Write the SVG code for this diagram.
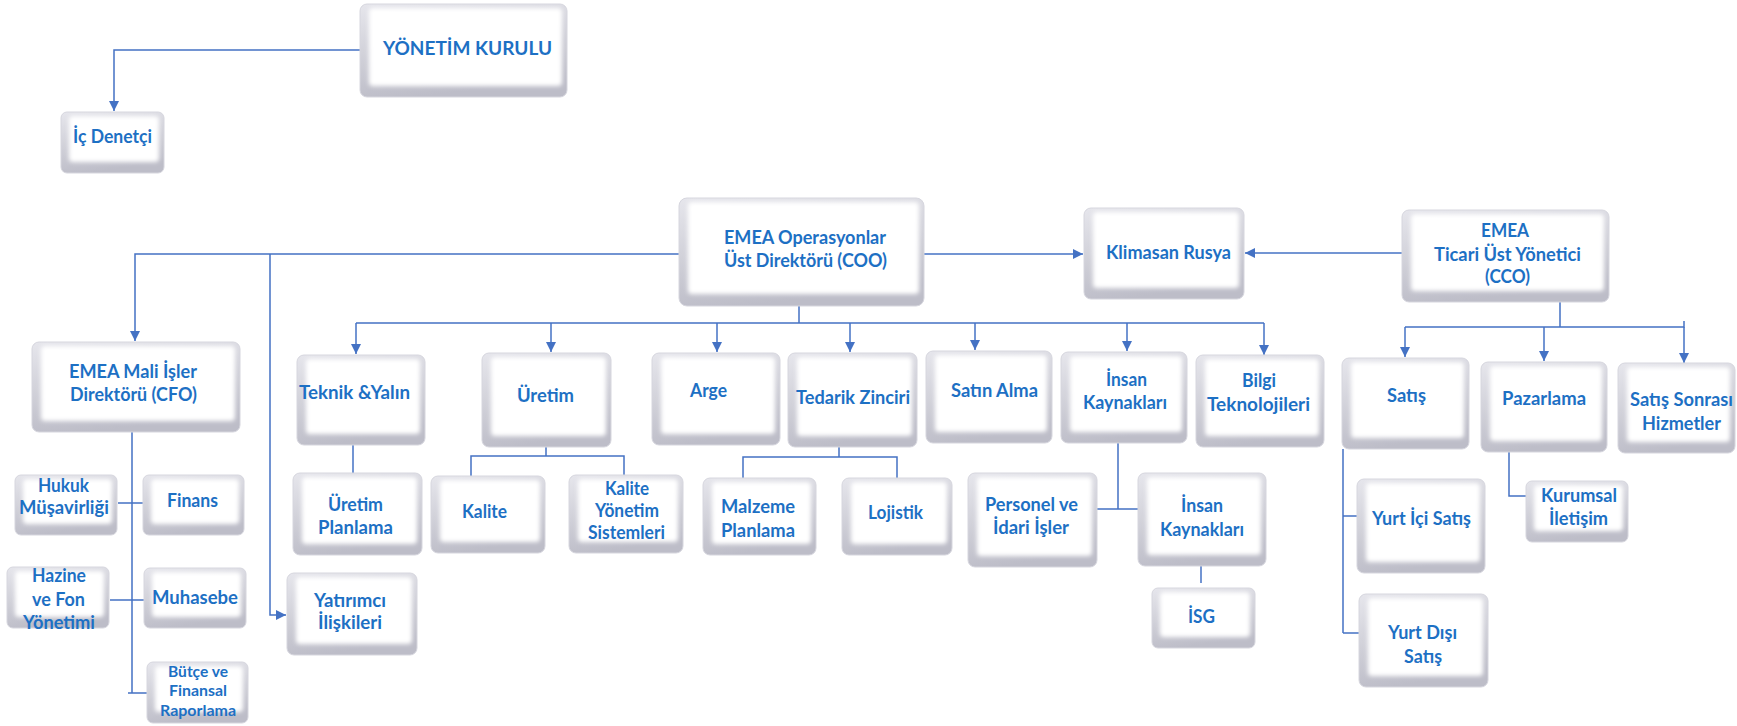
<svg xmlns="http://www.w3.org/2000/svg" width="1737" height="726" viewBox="0 0 1737 726">
<defs>
<linearGradient id="gO" x1="0" y1="0" x2="0.25" y2="1">
<stop offset="0" stop-color="#e6e6ec"/>
<stop offset="0.5" stop-color="#d2d2da"/>
<stop offset="1" stop-color="#bdbdc8"/>
</linearGradient>
<filter id="soft" x="-10%" y="-10%" width="120%" height="120%">
<feGaussianBlur stdDeviation="2.2"/>
</filter>
<marker id="ah" viewBox="0 0 10 10" refX="10" refY="5" markerWidth="10" markerHeight="10" markerUnits="userSpaceOnUse" orient="auto">
<path d="M0,0 L10,5 L0,10 z" fill="#4472c4"/>
</marker>
</defs>
<style>
.o{fill:url(#gO);stroke:#d6d6de;stroke-width:1}
.f{fill:#ffffff;filter:url(#soft)}
text{font-family:Lato,"Liberation Sans",sans-serif;font-weight:bold;font-size:18px;fill:#1d70c4;text-anchor:middle}
.s{font-size:14.5px}
.c path{fill:none;stroke:#4472c4;stroke-width:1.5}
.c .a{marker-end:url(#ah)}
</style>
<rect width="1737" height="726" fill="#ffffff"/>

<g class="c" id="connectors">
<path class="a" d="M360,50 H114 V111"/>
<path class="a" d="M679,254 H135 V341"/>
<path class="a" d="M270,254 V615 H286"/>
<path class="a" d="M924,254 H1083"/>
<path class="a" d="M1402,253 H1245"/>
<path d="M799,306 V323 M356,323 H1264"/>
<path class="a" d="M356,323 V354"/>
<path class="a" d="M551,323 V352"/>
<path class="a" d="M717,323 V352"/>
<path class="a" d="M850,323 V352"/>
<path class="a" d="M975,323 V350"/>
<path class="a" d="M1127,323 V351"/>
<path class="a" d="M1264,323 V355"/>
<path d="M1560,302 V327 M1405,327 H1684 V321"/>
<path class="a" d="M1405,327 V357"/>
<path class="a" d="M1544,327 V361"/>
<path class="a" d="M1684,327 V363"/>
<path d="M132,432 V693 M118,503 H147 M110,600 H147 M128,693 H147"/>
<path d="M353,445 V473"/>
<path d="M546,447 V456 M471,477 V456 H624 V475"/>
<path d="M839,447 V457 M743,478 V457 H897 V478"/>
<path d="M1118,443 V509 M1097,509 H1139"/>
<path d="M1201,566 V583"/>
<path d="M1343,449 V633 M1343,516 H1358 M1343,633 H1360"/>
<path d="M1509,452 V496 H1527"/>
</g>

<g id="yonetim-kurulu"><rect class="o" x="360" y="4" width="207" height="93" rx="7"/><rect class="f" x="369" y="8" width="193" height="78" rx="4"/>
<text x="467.5" y="55" font-size="20" textLength="169" lengthAdjust="spacingAndGlyphs">YÖNETİM KURULU</text></g>

<g id="ic-denetci"><rect class="o" x="61" y="112" width="103" height="61" rx="6"/><rect class="f" x="69" y="116" width="90" height="46" rx="4"/>
<text x="112.5" y="143" textLength="79" lengthAdjust="spacingAndGlyphs">İç Denetçi</text></g>

<g id="cfo"><rect class="o" x="32" y="342" width="208" height="90" rx="7"/><rect class="f" x="41" y="346" width="194" height="75" rx="4"/>
<text x="133" y="378" textLength="128" lengthAdjust="spacingAndGlyphs">EMEA Mali İşler</text>
<text x="133.5" y="401" textLength="127" lengthAdjust="spacingAndGlyphs">Direktörü (CFO)</text></g>

<g id="hukuk"><rect class="o" x="15" y="475" width="102" height="60" rx="6"/><rect class="f" x="23" y="479" width="89" height="45" rx="4"/>
<text x="63.5" y="492" textLength="51" lengthAdjust="spacingAndGlyphs">Hukuk</text>
<text x="64" y="514" textLength="90" lengthAdjust="spacingAndGlyphs">Müşavirliği</text></g>

<g id="finans"><rect class="o" x="143" y="475" width="101" height="60" rx="6"/><rect class="f" x="151" y="479" width="88" height="45" rx="4"/>
<text x="192.5" y="507" textLength="51" lengthAdjust="spacingAndGlyphs">Finans</text></g>

<g id="hazine"><rect class="o" x="7" y="567" width="102" height="61" rx="6"/><rect class="f" x="15" y="571" width="89" height="46" rx="4"/>
<text x="59" y="582" textLength="54" lengthAdjust="spacingAndGlyphs">Hazine</text>
<text x="58.5" y="606" textLength="53" lengthAdjust="spacingAndGlyphs">ve Fon</text>
<text x="59" y="629" textLength="72" lengthAdjust="spacingAndGlyphs">Yönetimi</text></g>

<g id="muhasebe"><rect class="o" x="144" y="568" width="102" height="60" rx="6"/><rect class="f" x="152" y="572" width="89" height="45" rx="4"/>
<text x="195" y="604" textLength="86" lengthAdjust="spacingAndGlyphs">Muhasebe</text></g>

<g id="butce"><rect class="o" x="147" y="662" width="101" height="61" rx="6"/><rect class="f" x="155" y="666" width="88" height="46" rx="4"/>
<text class="s" x="198" y="677" textLength="60" lengthAdjust="spacingAndGlyphs">Bütçe ve</text>
<text class="s" x="198" y="696" textLength="58" lengthAdjust="spacingAndGlyphs">Finansal</text>
<text class="s" x="198" y="716" textLength="76" lengthAdjust="spacingAndGlyphs">Raporlama</text></g>

<g id="teknik"><rect class="o" x="297" y="355" width="128" height="90" rx="7"/><rect class="f" x="306" y="359" width="114" height="75" rx="4"/>
<text x="354.5" y="399" textLength="111" lengthAdjust="spacingAndGlyphs">Teknik &amp;Yalın</text></g>

<g id="uretim-planlama"><rect class="o" x="293" y="473" width="129" height="82" rx="7"/><rect class="f" x="302" y="477" width="115" height="67" rx="4"/>
<text x="355.5" y="511" textLength="55" lengthAdjust="spacingAndGlyphs">Üretim</text>
<text x="355.5" y="534" textLength="75" lengthAdjust="spacingAndGlyphs">Planlama</text></g>

<g id="yatirimci"><rect class="o" x="287" y="573" width="130" height="82" rx="7"/><rect class="f" x="296" y="577" width="116" height="67" rx="4"/>
<text x="350" y="607" textLength="72" lengthAdjust="spacingAndGlyphs">Yatırımcı</text>
<text x="350" y="629" textLength="64" lengthAdjust="spacingAndGlyphs">İlişkileri</text></g>

<g id="coo"><rect class="o" x="679" y="198" width="245" height="108" rx="8"/><rect class="f" x="688" y="202" width="231" height="92" rx="4"/>
<text x="805" y="244" textLength="162" lengthAdjust="spacingAndGlyphs">EMEA Operasyonlar</text>
<text x="805.5" y="267" textLength="163" lengthAdjust="spacingAndGlyphs">Üst Direktörü (COO)</text></g>

<g id="uretim"><rect class="o" x="482" y="353" width="129" height="94" rx="7"/><rect class="f" x="491" y="357" width="115" height="79" rx="4"/>
<text x="545.5" y="402" textLength="57" lengthAdjust="spacingAndGlyphs">Üretim</text></g>

<g id="arge"><rect class="o" x="652" y="353" width="128" height="92" rx="7"/><rect class="f" x="661" y="357" width="114" height="77" rx="4"/>
<text x="708.5" y="397" textLength="37" lengthAdjust="spacingAndGlyphs">Arge</text></g>

<g id="tedarik"><rect class="o" x="788" y="353" width="129" height="94" rx="7"/><rect class="f" x="797" y="357" width="115" height="79" rx="4"/>
<text x="853" y="404" textLength="114" lengthAdjust="spacingAndGlyphs">Tedarik Zinciri</text></g>

<g id="kalite"><rect class="o" x="431" y="476" width="114" height="77" rx="7"/><rect class="f" x="440" y="480" width="100" height="62" rx="4"/>
<text x="484.5" y="518" textLength="45" lengthAdjust="spacingAndGlyphs">Kalite</text></g>

<g id="kys"><rect class="o" x="569" y="475" width="114" height="78" rx="7"/><rect class="f" x="578" y="479" width="100" height="63" rx="4"/>
<text x="627" y="495" textLength="44" lengthAdjust="spacingAndGlyphs">Kalite</text>
<text x="627" y="517" textLength="64" lengthAdjust="spacingAndGlyphs">Yönetim</text>
<text x="626.5" y="539" textLength="77" lengthAdjust="spacingAndGlyphs">Sistemleri</text></g>

<g id="malzeme"><rect class="o" x="703" y="478" width="113" height="77" rx="7"/><rect class="f" x="712" y="482" width="99" height="62" rx="4"/>
<text x="758" y="513" textLength="74" lengthAdjust="spacingAndGlyphs">Malzeme</text>
<text x="758" y="537" textLength="74" lengthAdjust="spacingAndGlyphs">Planlama</text></g>

<g id="lojistik"><rect class="o" x="842" y="478" width="110" height="77" rx="7"/><rect class="f" x="851" y="482" width="96" height="62" rx="4"/>
<text x="895.5" y="519" textLength="55" lengthAdjust="spacingAndGlyphs">Lojistik</text></g>

<g id="klimasan"><rect class="o" x="1084" y="208" width="160" height="91" rx="7"/><rect class="f" x="1093" y="212" width="146" height="76" rx="4"/>
<text x="1168.5" y="259" textLength="125" lengthAdjust="spacingAndGlyphs">Klimasan Rusya</text></g>

<g id="cco"><rect class="o" x="1402" y="210" width="207" height="92" rx="7"/><rect class="f" x="1411" y="214" width="193" height="77" rx="4"/>
<text x="1505" y="237" textLength="48" lengthAdjust="spacingAndGlyphs">EMEA</text>
<text x="1507.5" y="261" textLength="147" lengthAdjust="spacingAndGlyphs">Ticari Üst Yönetici</text>
<text x="1507.5" y="283" textLength="45" lengthAdjust="spacingAndGlyphs">(CCO)</text></g>

<g id="satin-alma"><rect class="o" x="926" y="351" width="126" height="92" rx="7"/><rect class="f" x="935" y="355" width="112" height="77" rx="4"/>
<text x="994.5" y="397" textLength="87" lengthAdjust="spacingAndGlyphs">Satın Alma</text></g>

<g id="insan-kaynaklari"><rect class="o" x="1061" y="352" width="126" height="91" rx="7"/><rect class="f" x="1070" y="356" width="112" height="76" rx="4"/>
<text x="1126.5" y="386" textLength="41" lengthAdjust="spacingAndGlyphs">İnsan</text>
<text x="1125" y="409" textLength="84" lengthAdjust="spacingAndGlyphs">Kaynakları</text></g>

<g id="bilgi"><rect class="o" x="1196" y="355" width="128" height="92" rx="7"/><rect class="f" x="1205" y="359" width="114" height="77" rx="4"/>
<text x="1259" y="387" textLength="34" lengthAdjust="spacingAndGlyphs">Bilgi</text>
<text x="1258.5" y="411" textLength="103" lengthAdjust="spacingAndGlyphs">Teknolojileri</text></g>

<g id="satis"><rect class="o" x="1342" y="358" width="127" height="91" rx="7"/><rect class="f" x="1351" y="362" width="113" height="76" rx="4"/>
<text x="1406.5" y="402" textLength="39" lengthAdjust="spacingAndGlyphs">Satış</text></g>

<g id="pazarlama"><rect class="o" x="1481" y="362" width="126" height="90" rx="7"/><rect class="f" x="1490" y="366" width="112" height="75" rx="4"/>
<text x="1544" y="405" textLength="84" lengthAdjust="spacingAndGlyphs">Pazarlama</text></g>

<g id="satis-sonrasi"><rect class="o" x="1618" y="363" width="117" height="90" rx="7"/><rect class="f" x="1627" y="367" width="103" height="75" rx="4"/>
<text x="1681.5" y="406" textLength="103" lengthAdjust="spacingAndGlyphs">Satış Sonrası</text>
<text x="1681.5" y="430" textLength="79" lengthAdjust="spacingAndGlyphs">Hizmetler</text></g>

<g id="personel"><rect class="o" x="968" y="473" width="129" height="94" rx="7"/><rect class="f" x="977" y="477" width="115" height="79" rx="4"/>
<text x="1031.5" y="511" textLength="93" lengthAdjust="spacingAndGlyphs">Personel ve</text>
<text x="1031" y="534" textLength="76" lengthAdjust="spacingAndGlyphs">İdari İşler</text></g>

<g id="insan-kaynaklari-2"><rect class="o" x="1138" y="473" width="128" height="93" rx="7"/><rect class="f" x="1147" y="477" width="114" height="78" rx="4"/>
<text x="1202" y="512" textLength="42" lengthAdjust="spacingAndGlyphs">İnsan</text>
<text x="1202" y="536" textLength="84" lengthAdjust="spacingAndGlyphs">Kaynakları</text></g>

<g id="isg"><rect class="o" x="1152" y="588" width="103" height="60" rx="6"/><rect class="f" x="1160" y="592" width="90" height="45" rx="4"/>
<text x="1201.5" y="623" textLength="27" lengthAdjust="spacingAndGlyphs">İSG</text></g>

<g id="yurt-ici"><rect class="o" x="1357" y="479" width="128" height="94" rx="7"/><rect class="f" x="1366" y="483" width="114" height="79" rx="4"/>
<text x="1421.5" y="525" textLength="99" lengthAdjust="spacingAndGlyphs">Yurt İçi Satış</text></g>

<g id="yurt-disi"><rect class="o" x="1359" y="594" width="129" height="93" rx="7"/><rect class="f" x="1368" y="598" width="115" height="78" rx="4"/>
<text x="1422.5" y="639" textLength="69" lengthAdjust="spacingAndGlyphs">Yurt Dışı</text>
<text x="1423" y="663" textLength="38" lengthAdjust="spacingAndGlyphs">Satış</text></g>

<g id="kurumsal"><rect class="o" x="1526" y="481" width="102" height="61" rx="6"/><rect class="f" x="1534" y="485" width="89" height="46" rx="4"/>
<text x="1579" y="502" textLength="76" lengthAdjust="spacingAndGlyphs">Kurumsal</text>
<text x="1578.5" y="525" textLength="59" lengthAdjust="spacingAndGlyphs">İletişim</text></g>
</svg>
